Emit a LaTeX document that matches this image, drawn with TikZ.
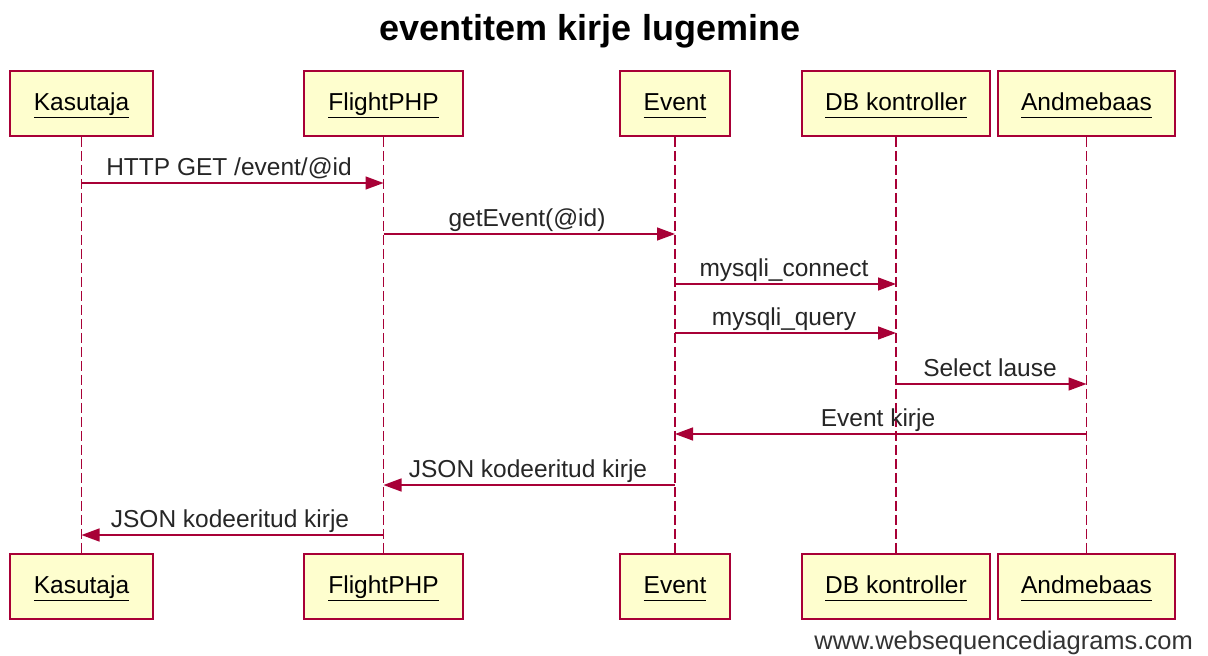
\documentclass[tikz,border=0pt]{standalone}
\usepackage{fontspec}
\setmainfont{Liberation Sans}
\usetikzlibrary{arrows.meta}
\definecolor{seqred}{HTML}{A80036}
\definecolor{seqfill}{HTML}{FEFECE}
\newcommand{\actorname}[1]{\underline{#1\vphantom{gj}}}
\tikzset{
  actor/.style={draw=seqred, fill=seqfill, line width=1.6pt, minimum height=65pt, inner sep=0pt,
    text height=20pt, text depth=6pt, font=\fontsize{24.5}{28}\selectfont},
  life/.style={draw=seqred, line width=1.5pt, dash pattern=on 10pt off 4pt},
  msg/.style={draw=seqred, line width=1.5pt, -{Triangle[length=18pt,width=13pt]}},
  lbl/.style={anchor=base, inner sep=0pt, font=\fontsize{24.5}{28}\selectfont, text=black!85},
}
\begin{document}
\begin{tikzpicture}[x=1pt,y=-1pt]
\useasboundingbox[fill=white] (0,0) rectangle (1208,656);
\node[font=\bfseries\fontsize{36}{42}\selectfont, anchor=base] (title) at (590,40) {eventitem kirje lugemine};
% top boxes
\node[actor, minimum width=143pt] (kt) at (81.5,103.5) {\actorname{Kasutaja}};
\node[actor, minimum width=159pt] (ft) at (383.5,103.5) {\actorname{FlightPHP}};
\node[actor, minimum width=110pt] (et) at (675,103.5) {\actorname{Event}};
\node[actor, minimum width=188pt] (dt) at (896,103.5) {\actorname{DB kontroller}};
\node[actor, minimum width=177pt] (at) at (1086.5,103.5) {\actorname{Andmebaas}};
% bottom boxes
\node[actor, minimum width=143pt] (kb) at (81.5,586.5) {\actorname{Kasutaja}};
\node[actor, minimum width=159pt] (fb) at (383.5,586.5) {\actorname{FlightPHP}};
\node[actor, minimum width=110pt] (eb) at (675,586.5) {\actorname{Event}};
\node[actor, minimum width=188pt] (db) at (896,586.5) {\actorname{DB kontroller}};
\node[actor, minimum width=177pt] (ab) at (1086.5,586.5) {\actorname{Andmebaas}};
% lifelines
\draw[life] (kt) -- (kb);
\draw[life] (ft) -- (fb);
\draw[life] (et) -- (eb);
\draw[life] (dt) -- (db);
\draw[life] (at) -- (ab);
% messages
\draw[msg] (kt.south |- 0,183) -- (ft.south |- 0,183);
\node[lbl] (m1) at (229,175) {HTTP GET /event/@id};
\draw[msg] (ft.south |- 0,234) -- (et.south |- 0,234);
\node[lbl] (m2) at (527,226) {getEvent(@id)};
\draw[msg] (et.south |- 0,284) -- (dt.south |- 0,284);
\node[lbl] (m3) at (784,276) {mysqli\_connect};
\draw[msg] (et.south |- 0,333) -- (dt.south |- 0,333);
\node[lbl] (m4) at (784,325) {mysqli\_query};
\draw[msg] (dt.south |- 0,384) -- (at.south |- 0,384);
\node[lbl] (m5) at (990,376) {Select lause};
\draw[msg] (at.south |- 0,434) -- (et.south |- 0,434);
\node[lbl] (m6) at (878,426) {Event kirje};
\draw[msg] (et.south |- 0,485) -- (ft.south |- 0,485);
\node[lbl] (m7) at (528,477) {JSON kodeeritud kirje};
\draw[msg] (ft.south |- 0,535) -- (kt.south |- 0,535);
\node[lbl] (m8) at (230,527) {JSON kodeeritud kirje};
% watermark
\node[anchor=base east, inner sep=0pt, font=\fontsize{25.5}{29}\selectfont, text=black!80] (wm) at (1193,649) {www.websequencediagrams.com};
\end{tikzpicture}
\end{document}
